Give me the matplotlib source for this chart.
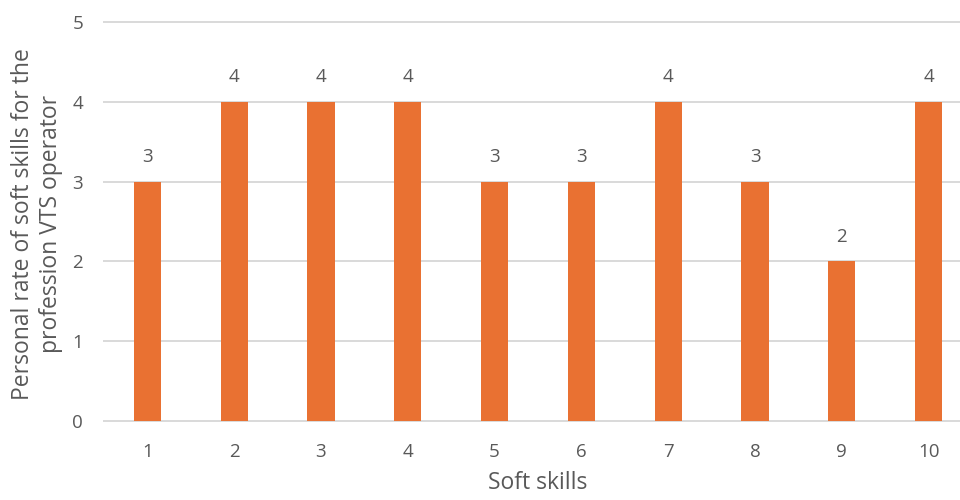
import matplotlib
matplotlib.use("Agg")
import matplotlib.pyplot as plt

categories = ["1", "2", "3", "4", "5", "6", "7", "8", "9", "10"]
values = [3, 4, 4, 4, 3, 3, 4, 3, 2, 4]
yticks = [0, 1, 2, 3, 4, 5]
xlabel = "Soft skills"
ylabel = "Personal rate of soft skills for the\nprofession VTS operator"

plt.rcParams['font.family'] = ['Open Sans', 'DejaVu Sans']
text_color = "#595959"
bar_color = "#E97132"
grid_color = "#D9D9D9"

fig = plt.figure(figsize=(9.6, 5), dpi=100)
ax = fig.add_axes([104/960, 79/500, 868/960, 399/500])

x = list(range(len(categories)))
ax.bar(x, values, width=0.315, color=bar_color, zorder=3)

ax.set_xlim(-0.5, len(categories) - 0.5)
ax.set_ylim(0, 5)
ax.set_yticks(yticks)
ax.set_xticks(x)
ax.set_xticklabels(categories)

for s in ax.spines.values():
    s.set_visible(False)
ax.tick_params(axis='both', length=0, labelsize=13.5, colors=text_color)
ax.tick_params(axis='y', pad=15)
ax.tick_params(axis='x', pad=15.5)

for yv in yticks:
    ln = ax.axhline(yv, color=grid_color, lw=1.4, zorder=1)
    ln.set_clip_on(False)

for xi, v in zip(x, values):
    ax.annotate(str(v), (xi, v), xytext=(0, 17.5), textcoords='offset points',
                ha='center', va='center', fontsize=13.5, color=text_color)

fig.text((104 + 868/2)/960, 1 - 483/500, xlabel, ha='center', va='center',
         fontsize=16.5, color=text_color)
fig.text(37/960, 1 - 224/500, ylabel, ha='center', va='center', rotation=90,
         fontsize=16.5, color=text_color, linespacing=1.25, multialignment='center')

fig.savefig("out.png", dpi=100)
